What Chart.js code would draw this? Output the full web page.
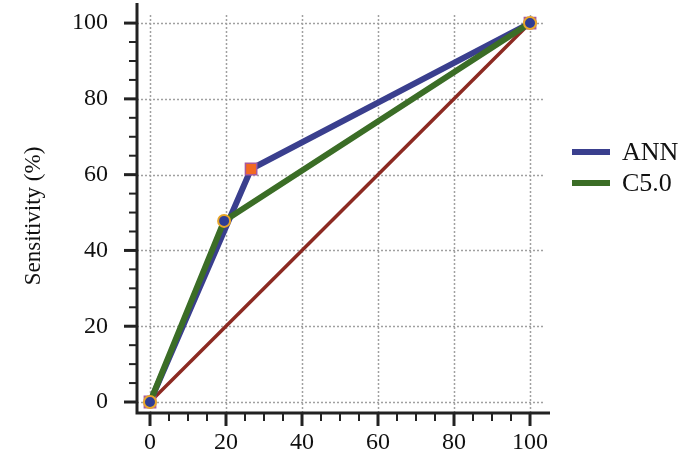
<!DOCTYPE html>
<html><head><meta charset="utf-8">
<script src="https://cdn.jsdelivr.net/npm/chart.js@4/dist/chart.umd.min.js"></script>
<style>
html,body{margin:0;padding:0;background:#fff;}
#wrap{position:relative;width:700px;height:463px;}
.leg{position:absolute;left:572px;height:30px;font-family:"Liberation Serif","Times New Roman",serif;font-size:26px;color:#111;display:flex;align-items:center;white-space:nowrap;}
.leg .sw{display:inline-block;width:38px;height:6px;margin-right:12px;}
</style></head><body>
<div id="wrap"><canvas id="c" width="700" height="463"></canvas><div id="legend"></div></div>
<script>
// ---- data ----
const seriesNames = ['ANN', 'C5.0'];
const annFPR  = [0, 26.6, 100];
const annSens = [0, 61.5, 100];
const c50FPR  = [0, 19.5, 100];
const c50Sens = [0, 47.8, 100];
const refFPR  = [0, 100];
const refSens = [0, 100];
const majorTicks = [0, 20, 40, 60, 80, 100];
const yTitle = 'Sensitivity (%)';

// ---- styles ----
const FONT = '"Liberation Serif","Times New Roman",serif';
const annColor = '#3a3f8e';
const c50Color = '#3b6d26';
const refColor = '#8c2a22';

const toXY = (xs, ys) => xs.map((x, i) => ({x: x, y: ys[i]}));

const axesPlugin = {
  id: 'axesPlugin',
  beforeDatasetsDraw(chart) {
    const {ctx, chartArea: a, scales: {x, y}} = chart;
    ctx.save();
    ctx.strokeStyle = '#a0a0a0';
    ctx.lineWidth = 1.5;
    ctx.setLineDash([2, 2]);
    const gTop = y.getPixelForValue(102.6);
    const gRight = x.getPixelForValue(103.7);
    majorTicks.forEach(v => {
      const px = Math.round(x.getPixelForValue(v)) + 0.5;
      ctx.beginPath(); ctx.moveTo(px, a.bottom); ctx.lineTo(px, gTop); ctx.stroke();
      const py = Math.round(y.getPixelForValue(v)) + 0.5;
      ctx.beginPath(); ctx.moveTo(a.left, py); ctx.lineTo(gRight, py); ctx.stroke();
    });
    ctx.setLineDash([]);
    ctx.strokeStyle = '#222';
    for (let v = 0; v <= 100; v += 5) {
      const major = v % 20 === 0;
      ctx.lineWidth = major ? 3 : 2;
      const len = major ? 13 : 8;
      const px = x.getPixelForValue(v);
      ctx.beginPath(); ctx.moveTo(px, a.bottom); ctx.lineTo(px, a.bottom + len); ctx.stroke();
      const py = y.getPixelForValue(v);
      ctx.beginPath(); ctx.moveTo(a.left, py); ctx.lineTo(a.left - len, py); ctx.stroke();
    }
    ctx.lineWidth = 3;
    ctx.beginPath(); ctx.moveTo(a.left, a.top); ctx.lineTo(a.left, a.bottom); ctx.lineTo(a.right, a.bottom); ctx.stroke();
    // y-axis title
    ctx.translate(34, 216);
    ctx.rotate(-Math.PI / 2);
    ctx.fillStyle = '#111';
    ctx.font = '23px ' + FONT;
    ctx.textAlign = 'center';
    ctx.textBaseline = 'middle';
    ctx.fillText(yTitle, 0, 0);
    ctx.restore();
  }
};

const tickFont = {family: FONT, size: 24};

new Chart(document.getElementById('c'), {
  type: 'scatter',
  data: {
    datasets: [
      {label: 'ref', data: toXY(refFPR, refSens), showLine: true, borderColor: refColor, borderWidth: 3.5, pointRadius: 0, order: 3},
      {label: seriesNames[0], data: toXY(annFPR, annSens), showLine: true, borderColor: annColor, backgroundColor: annColor, borderWidth: 6,
       pointStyle: 'rect', pointRadius: 8, pointBackgroundColor: '#f26a22', pointBorderColor: '#a85a9c', pointBorderWidth: 1.5, order: 2},
      {label: seriesNames[1], data: toXY(c50FPR, c50Sens), showLine: true, borderColor: c50Color, backgroundColor: c50Color, borderWidth: 6,
       pointStyle: 'circle', pointRadius: 6, pointBackgroundColor: '#2f3d95', pointBorderColor: '#e8a62a', pointBorderWidth: 2, order: 1}
    ]
  },
  options: {
    responsive: false,
    animation: false,
    layout: {autoPadding: false, padding: {left: 19, right: 150, top: 3, bottom: 0}},
    plugins: {legend: {display: false}, tooltip: {enabled: false}},
    elements: {line: {tension: 0}},
    scales: {
      x: {
        type: 'linear', min: -3.42, max: 105.26,
        afterBuildTicks: s => { s.ticks = majorTicks.map(v => ({value: v})); },
        afterFit: s => { s.height = 50; s.paddingLeft = 0; s.paddingRight = 0; s.paddingTop = 0; s.paddingBottom = 0; },
        grid: {display: true, drawOnChartArea: false, drawTicks: true, tickLength: 13, color: 'rgba(0,0,0,0)'},
        border: {display: false},
        ticks: {font: tickFont, color: '#111', padding: 2, maxRotation: 0, autoSkip: false}
      },
      y: {
        type: 'linear', min: -2.9, max: 105.3,
        afterBuildTicks: s => { s.ticks = majorTicks.map(v => ({value: v})); },
        afterFit: s => { s.width = 118; s.paddingLeft = 0; s.paddingRight = 0; s.paddingTop = 0; s.paddingBottom = 0; },
        grid: {display: true, drawOnChartArea: false, drawTicks: true, tickLength: 13, color: 'rgba(0,0,0,0)'},
        border: {display: false},
        ticks: {font: tickFont, color: '#111', padding: 16, autoSkip: false},
        title: {display: false}
      }
    }
  },
  plugins: [axesPlugin]
});

// legend (HTML)
const legendColors = [annColor, c50Color];
const legendTops = [137, 168];
const lg = document.getElementById('legend');
seriesNames.forEach((n, i) => {
  const d = document.createElement('div');
  d.className = 'leg';
  d.style.top = legendTops[i] + 'px';
  const sw = document.createElement('span');
  sw.className = 'sw';
  sw.style.background = legendColors[i];
  d.appendChild(sw);
  d.appendChild(document.createTextNode(n));
  lg.appendChild(d);
});
</script>
</body></html>
